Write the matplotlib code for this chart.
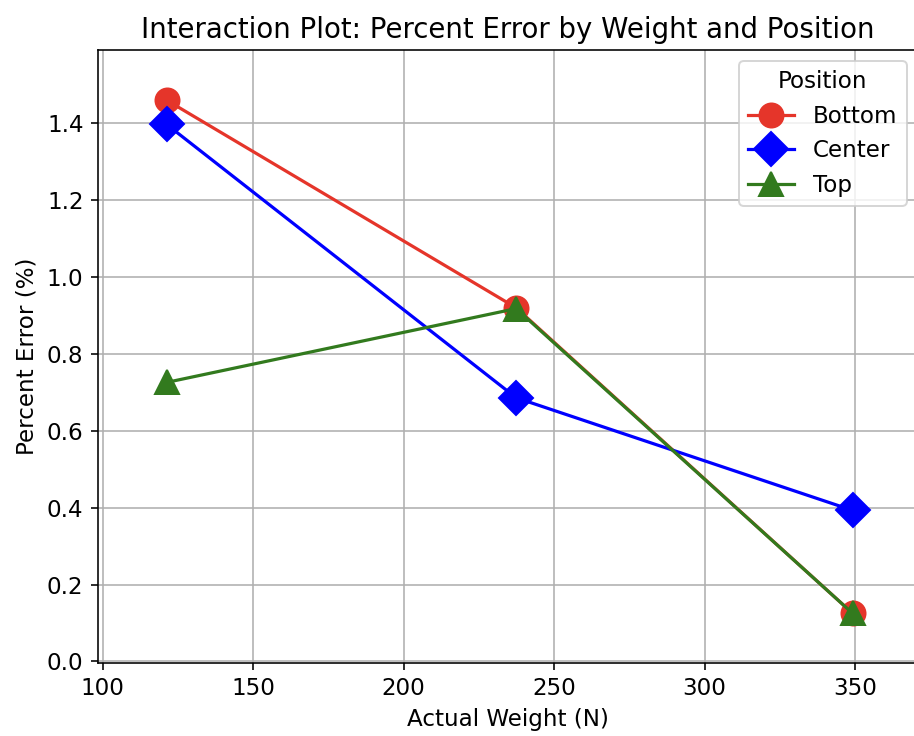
import matplotlib
matplotlib.use("Agg")
import matplotlib.pyplot as plt

weights = [121.3, 237.4, 349.2]
positions = ["Bottom", "Center", "Top"]
bottom_err = [1.460, 0.920, 0.125]
center_err = [1.397, 0.686, 0.393]
top_err = [0.726, 0.918, 0.125]

series = {"Bottom": bottom_err, "Center": center_err, "Top": top_err}
colors = {"Bottom": "#e5352a", "Center": "#0000ff", "Top": "#327a1e"}
markers = {"Bottom": "o", "Center": "D", "Top": "^"}

plt.rcParams["font.size"] = 11.5

W, H = 914, 736
dpi = 144
fig = plt.figure(figsize=(W / dpi, H / dpi), dpi=dpi)
ax = fig.add_axes([97.5 / W, 1 - 663 / H, (918 - 97.5) / W, (663 - 49.5) / H])

for p in positions:
    ax.plot(weights, series[p], color=colors[p], marker=markers[p],
            markersize=12, linewidth=1.6, label=p)

ax.set_xlim(98.3, 370.9)
ax.set_ylim(-0.004, 1.592)
ax.set_xticks([100, 150, 200, 250, 300, 350])
ax.set_yticks([0.0, 0.2, 0.4, 0.6, 0.8, 1.0, 1.2, 1.4])
ax.grid(True)
ax.set_axisbelow(True)
ax.set_title("Interaction Plot: Percent Error by Weight and Position", fontsize=13.8)
ax.set_xlabel("Actual Weight (N)")
ax.set_ylabel("Percent Error (%)")
ax.legend(title="Position", loc="upper right", title_fontsize=11.5)

fig.savefig("out.png", dpi=dpi)
